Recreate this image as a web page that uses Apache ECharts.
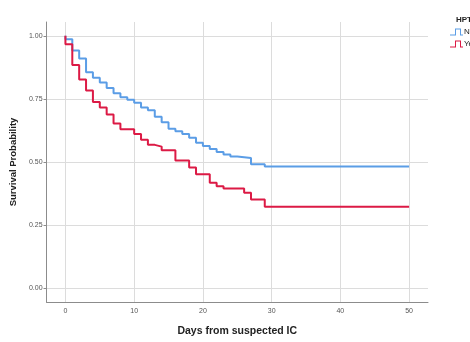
<!DOCTYPE html>
<html><head><meta charset="utf-8">
<script src="https://cdn.jsdelivr.net/npm/echarts@6/dist/echarts.min.js"></script>
<style>html,body{margin:0;padding:0;background:#fff}#c{width:470px;height:342px}</style>
</head><body><div id="c"></div>
<script>
const groupNames = ['No', 'Yes'];
const legendTitle = 'HPT';
const xTicks = [0, 10, 20, 30, 40, 50];
const yTicks = [0, 0.25, 0.5, 0.75, 1];
const noTimes = [0, 0, 1, 2, 3, 4, 5, 6, 7, 8, 9, 10, 11, 12, 13, 14, 15, 16, 17, 18, 19, 20, 21, 22, 23, 24, 25, 27, 29, 50];
const noSurv  = [1.00, 0.987, 0.942, 0.910, 0.856, 0.834, 0.815, 0.793, 0.773, 0.757, 0.747, 0.735, 0.716, 0.705, 0.679, 0.658, 0.632, 0.622, 0.611, 0.596, 0.576, 0.563, 0.552, 0.540, 0.530, 0.522, 0.516, 0.491, 0.482, 0.482];
const yesTimes = [0, 0, 1, 2, 3, 4, 5, 6, 7, 8, 10, 11, 12, 13, 14, 16, 18, 19, 21, 22, 23, 26, 27, 29, 50];
const yesSurv  = [1.00, 0.967, 0.885, 0.827, 0.783, 0.738, 0.716, 0.688, 0.653, 0.630, 0.611, 0.588, 0.568, 0.561, 0.547, 0.506, 0.478, 0.451, 0.418, 0.404, 0.395, 0.378, 0.351, 0.323, 0.323];

const colors = ['#5b9de6', '#dc1a45'];
const zip = (a, b) => a.map((t, i) => [t, b[i]]);
const stepIcon = 'path://M0,7 L5,7 L5,1 L11,1 L11,7 L13,7 L13,8 L10,8 L10,2 L6,2 L6,8 L0,8 Z';

const chart = echarts.init(document.getElementById('c'), null, {renderer: 'canvas'});
chart.setOption({
  animation: false,
  title: {text: legendTitle, left: 451, top: 11, textStyle: {fontSize: 8, fontWeight: 'bold', color: '#222', fontFamily: 'Liberation Sans'}},
  legend: {
    orient: 'vertical', left: 445, top: 23, itemGap: 4, itemWidth: 13, itemHeight: 8,
    icon: stepIcon,
    textStyle: {fontSize: 8, color: '#222', fontFamily: 'Liberation Sans', padding: [0,0,0,-4]},
    data: groupNames
  },
  grid: {left: 43.5, right: 42, top: 22, bottom: 29.3, containLabel: false},
  xAxis: {
    type: 'value', min: -2.75, max: 52.75,
    name: 'Days from suspected IC', nameLocation: 'middle', nameGap: 24,
    nameTextStyle: {fontSize: 10.5, fontWeight: 'bold', color: '#222', fontFamily: 'Liberation Sans'},
    axisLine: {show: true, onZero: false, lineStyle: {color: '#8c8c8c', width: 1}},
    axisTick: {show: false, customValues: xTicks},
    axisLabel: {customValues: xTicks, fontSize: 7, color: '#555', margin: 6, fontFamily: 'Liberation Sans'},
    splitLine: {show: true, customValues: xTicks, lineStyle: {color: '#dcdcdc', width: 1}}
  },
  yAxis: {
    type: 'value', min: -0.055, max: 1.055,
    name: 'Survival Probability', nameLocation: 'middle', nameGap: 22, nameRotate: 90,
    nameTextStyle: {fontSize: 9.5, fontWeight: 'bold', color: '#222', fontFamily: 'Liberation Sans'},
    axisLine: {show: true, onZero: false, lineStyle: {color: '#8c8c8c', width: 1}},
    axisTick: {show: true, customValues: yTicks, length: 3, lineStyle: {color: '#8c8c8c'}},
    axisLabel: {customValues: yTicks, fontSize: 7, color: '#555', margin: 4, fontFamily: 'Liberation Sans', formatter: v => v.toFixed(2)},
    splitLine: {show: true, customValues: yTicks, lineStyle: {color: '#dcdcdc', width: 1}}
  },
  series: [
    {name: groupNames[0], type: 'line', step: 'end', data: zip(noTimes, noSurv), showSymbol: false, symbol: 'none', color: colors[0], lineStyle: {width: 2, color: colors[0]}},
    {name: groupNames[1], type: 'line', step: 'end', data: zip(yesTimes, yesSurv), showSymbol: false, symbol: 'none', color: colors[1], lineStyle: {width: 2, color: colors[1]}}
  ]
});
</script></body></html>
